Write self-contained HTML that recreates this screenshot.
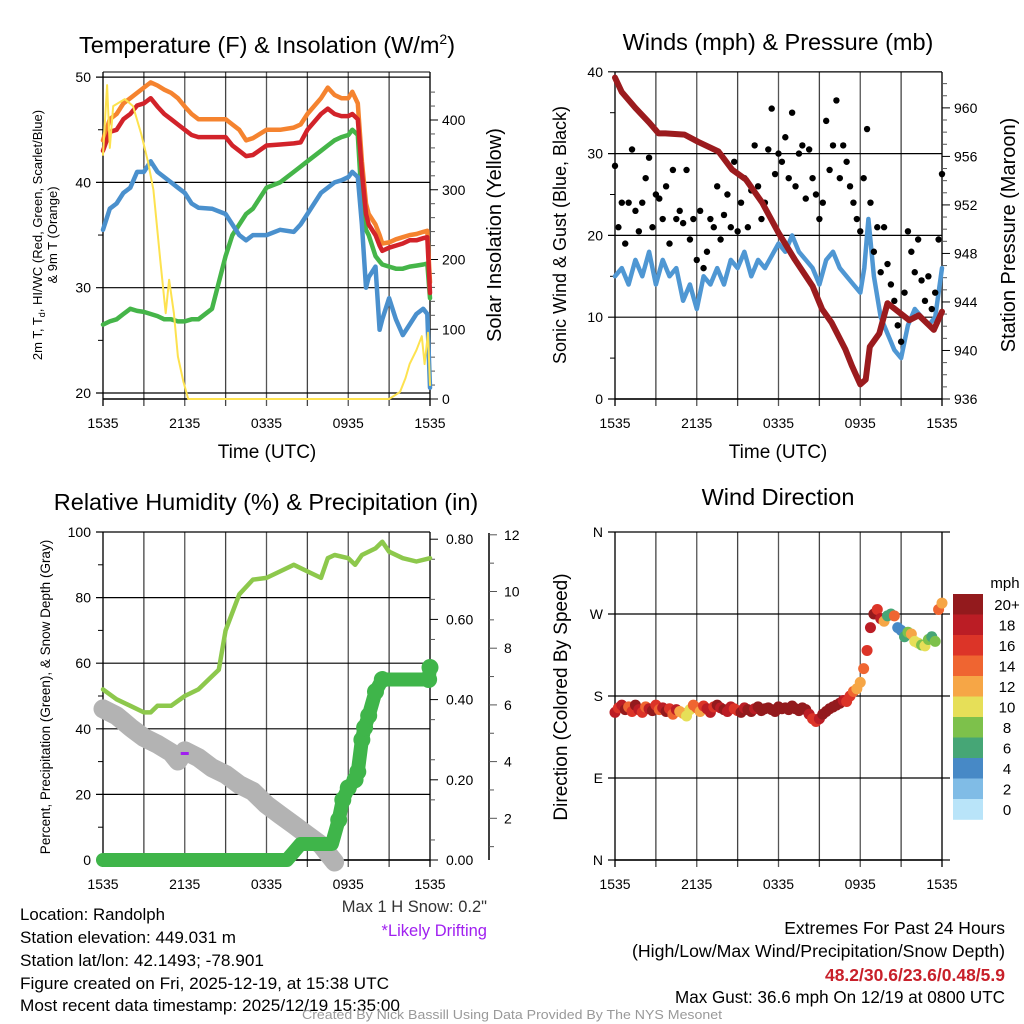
<!DOCTYPE html>
<html><head><meta charset="utf-8"><style>
html,body{margin:0;padding:0;background:#fff;width:1024px;height:1024px;overflow:hidden}
svg{display:block;font-family:"Liberation Sans",sans-serif}
</style></head><body>
<svg id="s" width="1024" height="1024" viewBox="0 0 1024 1024">
<g id="static">
<text x="267" y="53" font-size="23.5" text-anchor="middle">Temperature (F) &amp; Insolation (W/m<tspan dy="-9" font-size="14">2</tspan><tspan dy="9">)</tspan></text>
<text x="778" y="50" font-size="23.5" text-anchor="middle">Winds (mph) &amp; Pressure (mb)</text>
<text x="266" y="510" font-size="23.5" text-anchor="middle">Relative Humidity (%) &amp; Precipitation (in)</text>
<text x="778" y="505" font-size="23.5" text-anchor="middle">Wind Direction</text>
<text x="267" y="458" font-size="19" text-anchor="middle">Time (UTC)</text>
<text x="778" y="458" font-size="19" text-anchor="middle">Time (UTC)</text>
<text transform="translate(42,235) rotate(-90)" font-size="13" text-anchor="middle">2m T, T<tspan font-size="9" dy="3">d</tspan><tspan dy="-3">, HI/WC (Red, Green, Scarlet/Blue)</tspan></text>
<text transform="translate(57,235) rotate(-90)" font-size="13" text-anchor="middle">&amp; 9m T (Orange)</text>
<text transform="translate(501,235) rotate(-90)" font-size="20" text-anchor="middle">Solar Insolation (Yellow)</text>
<text transform="translate(566,235) rotate(-90)" font-size="18" text-anchor="middle">Sonic Wind &amp; Gust (Blue, Black)</text>
<text transform="translate(1015,235) rotate(-90)" font-size="20" text-anchor="middle">Station Pressure (Maroon)</text>
<text transform="translate(50,697) rotate(-90)" font-size="13.5" text-anchor="middle">Percent, Precipitation (Green), &amp; Snow Depth (Gray)</text>
<text transform="translate(567,697) rotate(-90)" font-size="19" text-anchor="middle">Direction (Colored By Speed)</text>
<text x="1005" y="588" font-size="15" text-anchor="middle">mph</text>
<g font-size="17">
<text x="20" y="920" textLength="145" lengthAdjust="spacingAndGlyphs">Location: Randolph</text>
<text x="20" y="943" textLength="216" lengthAdjust="spacingAndGlyphs">Station elevation: 449.031 m</text>
<text x="20" y="966" textLength="244" lengthAdjust="spacingAndGlyphs">Station lat/lon: 42.1493; -78.901</text>
<text x="20" y="989" textLength="369" lengthAdjust="spacingAndGlyphs">Figure created on Fri, 2025-12-19, at 15:38 UTC</text>
<text x="20" y="1011" textLength="380" lengthAdjust="spacingAndGlyphs">Most recent data timestamp: 2025/12/19 15:35:00</text>
</g>
<text x="487" y="912" font-size="16.5" text-anchor="end" fill="#333">Max 1 H Snow: 0.2"</text>
<text x="487" y="936" font-size="16.5" text-anchor="end" fill="#a020f0">*Likely Drifting</text>
<g font-size="17.5" text-anchor="end">
<text x="1005" y="934">Extremes For Past 24 Hours</text>
<text x="1005" y="957" textLength="373" lengthAdjust="spacingAndGlyphs">(High/Low/Max Wind/Precipitation/Snow Depth)</text>
<text x="1005" y="981" font-weight="bold" fill="#c8202a">48.2/30.6/23.6/0.48/5.9</text>
<text x="1005" y="1003" textLength="330" lengthAdjust="spacingAndGlyphs">Max Gust: 36.6 mph On 12/19 at 0800 UTC</text>
</g>
<text x="512" y="1019" font-size="13" text-anchor="middle" fill="#999" textLength="420" lengthAdjust="spacingAndGlyphs">Created By Nick Bassill Using Data Provided By The NYS Mesonet</text>
</g>
</svg>
<script>
// ---- data arrays ----
const xTickLabels = ["1535","2135","0335","0935","1535"];
const tempTimes = [0,0.5,1,1.5,2,2.5,3,3.5,4,4.5,5,5.5,6,6.5,7,8,9,9.5,10,10.5,11,12,13,14,14.5,15,16,16.5,17,17.5,18,18.3,18.7,19,19.3,19.5,20,20.3,20.5,21,21.5,22,22.5,23,23.5,23.8,24];
const orangeT = [44,46,46.5,47.5,48,48.5,49,49.5,49.2,48.8,48.5,48,47.2,46.5,46,46,46,45.5,45,44,44.2,45,45,45.2,45.5,46.5,48,49,48.3,48,48,48.6,47.5,42,38,37,36,35,34.2,34.3,34.6,34.8,35,35.1,35.3,35.4,30.5];
const redT = [43,44.8,45,46,46.5,47.3,47.5,48,47.2,46.5,46,45.5,45,44.5,44.3,44.3,44.3,43.5,43,42.5,42.6,43.5,43.6,43.7,43.8,45,46.5,47,46.5,46.3,46.3,46.5,46,41,37,36,35,34,33.5,33.8,34,34.2,34.5,34.5,34.7,34.8,29.5];
const blueT = [35.5,37.5,38,39,39.5,41,41,42,41,40.5,40,39.5,39,38,37.6,37.5,37,36,35,34.5,35,35,35.5,35.3,36,37,39,39.5,40,40.2,40.5,41,40.5,36,30,31,32,26,27,29,27,25.5,26.5,27.5,28,27.5,20.5];
const greenT = [26.5,26.8,27,27.5,28,27.8,27.7,27.5,27.3,27,27,26.8,26.8,27,27,28,33,35,36,37,37.5,39.5,40,41,41.5,42,43,43.5,44,44.3,44.5,45,44.5,38,35.5,35,33,32.5,32.2,32,31.8,31.8,32,32.1,32.2,32.3,29];
const solarTimes = [0,0.3,0.5,0.75,1.6,2.2,2.8,3.3,3.7,4.2,4.6,4.85,5.2,5.5,5.9,6.25,12,21,21.8,22.2,22.5,23,23.4,23.6,23.85,24];
const solarW = [350,450,360,420,430,420,380,340,300,200,123,171,123,61,25,0,0,0,10,30,50,70,90,50,95,20];
const windTimes = [0,0.5,1,1.5,2,2.5,3,3.5,4,4.5,5,5.5,6,6.5,7,7.5,8,8.5,9,9.5,10,10.5,11,12,12.5,13,13.5,14,14.5,15,15.5,16,16.5,17,17.5,18,18.3,18.6,19,19.5,20,20.5,21,21.5,22,22.5,23,23.5,24];
const windMph = [15,16,14,17,15,18,14,17,15,16,12,14,11,15,14,16,14,17,16,18,15,17,16,19,18,20,18,17,16,14,17,18,16,15,14,13,16,22,15,10,8,6,5,9,11,10,9,10,16];
const gustMph = [28.5,21,24,19,24,30.5,23,20.5,24,27,29.5,21,25,24.5,22,26,19,28,22,23,21.5,28,19.5,22,17,23,16,18,22,21,26,19.5,22.5,25,21,29,20.5,24,27,21,25.5,31,26,22,24,30.5,35.5,27.5,30,29,32,27,35,26,30,31,24.5,30.5,27,25,22,24,34,28,31,36.5,27,31,29,26,24,22,20.5,27,33,24,18,21,15.5,21,16.5,14,12,9,7,13,20.5,18,15.5,19.5,14.5,12,15,11,13,19.5,27.5];
const presTimes = [0,0.5,1.5,2.5,3.2,3.7,5.1,6.1,7.6,8.6,9.6,10.8,12,13.2,14.5,15.2,15.9,16.9,17.4,18,18.4,18.7,19.4,20,20.8,21.6,22.3,23.4,24];
const presMb = [962.5,961.3,960,958.8,957.9,957.9,957.8,957.2,956.4,954.9,954.1,952.2,949.7,947.5,945.3,943.4,942.3,940.1,938.7,937.2,937.6,940.3,941.4,943.9,943.2,942.5,942.9,941.7,943.2];
const rhTimes = [0,1,2,3,3.5,4,5,6,7,8,8.5,9,10,11,12,13,14,15,16,16.5,17,18,18.5,19,20,20.5,21,22,23,24];
const rhPct = [52,49,47,45,45,47,47,50,52,56,58,70,81,85.5,86,88,90,88,86,92,93,92,90,93,95,97,94,92,91,92];
const precipTimes = [0,13.5,14,14.5,16.8,17.3,17.6,18,18.5,18.7,19,19.2,19.5,20,20.5,23.9,24];
const precipIn = [0,0,0.02,0.04,0.04,0.1,0.15,0.18,0.2,0.22,0.3,0.33,0.36,0.42,0.45,0.45,0.48];
const snowTimes = [0,1,2,3,4,5,5.5,6,7,8,9,10,11,12,13,14,15,16,16.5,17];
const snowIn = [5.86,5.62,5.21,4.85,4.61,4.32,4.02,4.38,4.14,3.78,3.55,3.19,2.95,2.48,2.12,1.77,1.41,1.06,0.76,0.46];
const dirDeg = [162,167,170,165,168,163,170,165,162,168,166,164,170,165,167,163,166,160,165,163,161,158,165,170,167,163,169,166,162,168,170,167,165,163,168,166,164,162,167,165,163,166,168,164,166,167,165,163,168,166,167,165,169,166,164,167,165,160,155,152,155,160,163,166,168,170,172,175,174,180,185,188,195,210,230,255,270,275,265,262,268,270,268,255,252,245,250,248,240,238,236,235,242,245,240,275,282];
const dirSpeed = [18,16,19,20,15,17,20,18,16,14,19,20,17,15,18,20,16,14,18,12,13,11,10,14,15,13,16,18,19,16,20,18,20,18,19,17,16,20,18,20,20,19,21,22,20,21,20,21,22,21,20,22,21,20,21,22,20,18,17,16,18,20,21,22,22,21,20,18,16,17,14,13,12,14,17,19,20,16,18,12,7,6,14,5,4,7,8,12,10,11,9,10,8,7,8,15,12];
const cbLabels = ["20+","18","16","14","12","10","8","6","4","2","0"];
const cbColors = ["#931a1d","#bb1d25","#dc3428","#ef6531","#f6a646","#e6df58","#7dc14b","#46a676","#4789c6","#80bce6","#b9e4f9"];

// ---- helpers ----
const NS="http://www.w3.org/2000/svg", svg=document.getElementById('s');
function mk(tag,attrs,parent){const e=document.createElementNS(NS,tag);for(const k in attrs)e.setAttribute(k,attrs[k]);(parent||svg).appendChild(e);return e;}
const W=327;
function xs(h,x0){return x0+h/24*W;}
function pathD(ts,vs,x0,yf){return ts.map((t,i)=>(i?'L':'M')+xs(t,x0).toFixed(1)+','+yf(vs[i]).toFixed(1)).join(' ');}

function frame(x0,y0,y1,hLines,leftTicks,minorLeft,name){
  const g=mk('g',{});
  
  
  for(let i=0;i<=8;i++){const x=xs(i*3,x0);
    const l=mk('line',{x1:x,x2:x,y1:y0,y2:y1+7,stroke:(i%2?'#444':'#555'),'stroke-width':(i==0||i==8)?2:1.3},g);
    
    }
  hLines.forEach(y=>{const l=mk('line',{x1:x0-7,x2:x0+W,y1:y,y2:y,stroke:'#000','stroke-width':1.2},g);
    
    });
  mk('line',{x1:x0,x2:x0+W,y1:y0,y2:y0,stroke:'#000','stroke-width':1},g);
  mk('line',{x1:x0,x2:x0+W,y1:y1,y2:y1,stroke:'#000','stroke-width':1.5},g);
  minorLeft.forEach(y=>mk('line',{x1:x0-5,x2:x0,y1:y,y2:y,stroke:'#000'},g));
  leftTicks.forEach(([y,t])=>{const tx=mk('text',{x:x0-12,y:y+5,'font-size':14,'text-anchor':'end'},g);tx.textContent=t;
    
    });
  xTickLabels.forEach((t,i)=>{const tx=mk('text',{x:xs(i*6,x0),y:y1+29,'font-size':14,'text-anchor':'middle'},g);tx.textContent=t;
    
    });
}
function rightAxis(x,ticks,minors,name,lx){
  const g=mk('g',{});
  
  
  minors.forEach(y=>mk('line',{x1:x,x2:x+5,y1:y,y2:y,stroke:'#555'},g));
  ticks.forEach(([y,t])=>{mk('line',{x1:x,x2:x+8,y1:y,y2:y,stroke:'#000'},g);
    const tx=mk('text',{x:lx||x+12,y:y+5,'font-size':14},g);tx.textContent=t;
    
    });
}
function line(ts,vs,x0,yf,color,w,name){const p=mk('path',{d:pathD(ts,vs,x0,yf),fill:'none',stroke:color,'stroke-width':w,'stroke-linejoin':'round','stroke-linecap':'round'});
  
  return p;}

// ---- Panel 1: temperature ----
const P1=103, yT=v=>393-(v-20)*10.53, yS=w=>399-w*0.6975;
frame(P1,72,399,[20,30,40,50].map(yT),[[yT(20),'20'],[yT(30),'30'],[yT(40),'40'],[yT(50),'50']],[25,35,45].map(yT),'temperature');
{const mn=[];for(let w=20;w<=440;w+=20)if(w%100)mn.push(yS(w));
rightAxis(P1+W,[0,100,200,300,400].map(w=>[yS(w),String(w)]),mn,'insolation-axis',P1+W+12);}
line(tempTimes,greenT,P1,yT,'#45b549',4.5,'dewpoint-line');
line(tempTimes,blueT,P1,yT,'#4a90cd',4.5,'windchill-line');
line(tempTimes,orangeT,P1,yT,'#f5832f',4.5,'temp-9m-line');
line(tempTimes,redT,P1,yT,'#d2232a',4.5,'temp-2m-line');
line(solarTimes,solarW,P1,yS,'#fde24f',2,'insolation-line');

// ---- Panel 2: winds ----
const P2=615, yWd=v=>399-v*8.18, yP=p=>399-(p-936)*12.13;
frame(P2,72,399,[0,10,20,30,40].map(yWd),[0,10,20,30,40].map(v=>[yWd(v),String(v)]),[5,15,25,35].map(yWd),'winds');
{const mn=[];for(let p=937;p<=962;p++)if(p%4)mn.push(yP(p));
rightAxis(P2+W,[936,940,944,948,952,956,960].map(p=>[yP(p),String(p)]),mn,'pressure-axis',P2+W+12);}
line(windTimes,windMph,P2,yWd,'#4f97d3',4.5,'sonic-wind-line');
gustMph.forEach((g,i)=>{const c=mk('circle',{cx:xs(i*0.25,P2),cy:yWd(g),r:3.2,fill:'#000'});
  
  });
line(presTimes,presMb,P2,yP,'#9b1b1e',6,'pressure-line');

// ---- Panel 3: humidity ----
const yL=v=>860-v*3.28, yPr=v=>860-v*401, ySn=v=>875-v*28.35;
frame(P1,532,860,[0,20,40,60,80,100].map(yL),[0,20,40,60,80,100].map(v=>[yL(v),String(v)]),[10,30,50,70,90].map(yL),'humidity');
{const mn=[];for(let v=0.05;v<0.81;v+=0.1)mn.push(yPr(v));
rightAxis(P1+W,[0,0.2,0.4,0.6,0.8].map(v=>[yPr(v),v.toFixed(2)]),mn,'precip-axis',P1+W+16);}
{const g=mk('g',{});


mk('line',{x1:489,x2:489,y1:533,y2:860,stroke:'#000','stroke-width':1.5},g);
for(let v=1;v<=12;v+=1){mk('line',{x1:489,x2:v%2?494:497,y1:ySn(v),y2:ySn(v),stroke:'#555'},g);
 if(v%2==0){const t=mk('text',{x:504,y:ySn(v)+5,'font-size':14},g);t.textContent=String(v);}}}
line(snowTimes,snowIn,P1,ySn,'#b3b3b3',19,'snow-depth-line');
{const d=mk('rect',{x:xs(6,P1)-4,y:752,width:8,height:3,fill:'#a020f0'});

}
line(rhTimes,rhPct,P1,yL,'#8dc84c',4.5,'humidity-line');
line(precipTimes,precipIn,P1,yPr,'#3fb54a',14,'precip-line');
precipTimes.forEach((t,i)=>{if(precipIn[i]>0.05){const c=mk('circle',{cx:xs(t,P1),cy:yPr(precipIn[i]),r:8.5,fill:'#3fb54a'});
  
  }});

// ---- Panel 4: wind direction ----
const yD=d=>860-d/90*82;
frame(P2,532,860,[0,90,180,270,360].map(yD),[[yD(0),'N'],[yD(90),'E'],[yD(180),'S'],[yD(270),'W'],[yD(360),'N']],[],'direction');
[0,90,180,270,360].forEach(d=>{const l=mk('line',{x1:P2+W,x2:P2+W+8,y1:yD(d),y2:yD(d),stroke:'#000','stroke-width':1.2});
  
  });
dirDeg.forEach((d,i)=>{const bin=Math.min(10,Math.floor(dirSpeed[i]/2));
  const c=mk('circle',{cx:xs(i*0.25,P2),cy:yD(d),r:5.5,fill:cbColors[10-bin]});
  
  });
cbLabels.forEach((lab,i)=>{const y=594+i*20.5;
  const r=mk('rect',{x:953,y:y,width:30,height:20.8,fill:cbColors[i]});
  
  
  const t=mk('text',{x:1007,y:y+16,'font-size':15,'text-anchor':'middle'});t.textContent=lab;
  
  });
</script>
</body></html>
